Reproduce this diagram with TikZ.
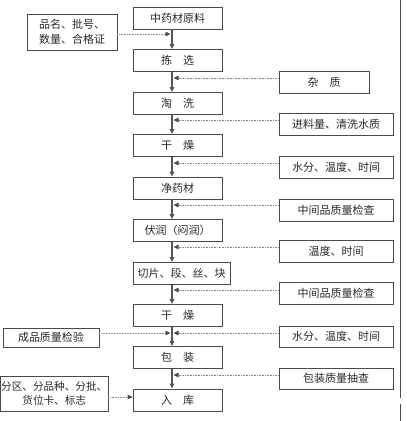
\documentclass[tikz,border=0pt]{standalone}
\usepackage{fontspec}
\setmainfont{Noto Sans CJK SC}
\usetikzlibrary{arrows.meta}
\definecolor{boxgray}{HTML}{4A4A4A}
\definecolor{spinegray}{HTML}{555555}
\definecolor{dotgray}{HTML}{8A8A8A}
\definecolor{txt}{HTML}{2A2A2A}
\newcommand{\gapsp}{\hspace{1em}}
\begin{document}
\begin{tikzpicture}[x=1pt,y=-1pt,
  box/.style={draw=boxgray, line width=0.8pt, inner sep=0pt, text=txt,
    font=\fontsize{11}{14.5}\selectfont, align=center},
  mainbox/.style={box, minimum width=89pt, minimum height=22pt},
  rbox/.style={box, minimum width=114pt, minimum height=22pt},
  spine/.style={draw=spinegray, line width=1.3pt,
    -{Triangle[length=5pt,width=4.5pt]}},
  side/.style={draw=dotgray, line width=0.8pt, dash pattern=on 0.8pt off 0.8pt,
    -{Triangle[length=5pt,width=4.5pt,color=boxgray]}},
  edge/.style={draw=boxgray, line width=0.9pt}]
\useasboundingbox (0,0) rectangle (407,421);
\fill[white] (0,0) rectangle (407,421);
\coordinate (sp) at (172,0);
% main column
\node[mainbox] (b1) at (177.5,18) {中药材原料};
\node[mainbox] (b2) at (177.5,60.5) {拣\gapsp 选};
\node[mainbox] (b3) at (177.5,103.5) {淘\gapsp 洗};
\node[mainbox] (b4) at (177.5,145.5) {干\gapsp 燥};
\node[mainbox] (b5) at (177.5,188) {净药材};
\node[mainbox] (b6) at (177.5,230.5) {伏润（闷润）};
\node[mainbox, minimum width=97pt] (b7) at (181.5,273.5) {切片、段、丝、块};
\node[mainbox] (b8) at (177.5,315.5) {干\gapsp 燥};
\node[mainbox] (b9) at (177.5,357.5) {包\gapsp 装};
\node[mainbox] (b10) at (177.5,400) {入\gapsp 库};
% left boxes
\node[box, minimum width=90pt, minimum height=36pt] (l1) at (72,32) {品名、批号、\\数量、合格证};
\node[box, minimum width=96pt, minimum height=19pt] (l2) at (51,337.5) {成品质量检验};
\node[box, minimum width=107.5pt, minimum height=35pt, font=\fontsize{10.6}{14.5}\selectfont] (l3) at (54.25,393.5) {分区、分品种、分批、\\货位卡、标志};
% right boxes
\node[box, minimum width=90pt, minimum height=22pt] (r1) at (324,82) {杂\gapsp 质};
\node[rbox] (r2) at (336,124) {进料量、清洗水质};
\node[rbox] (r3) at (336,167) {水分、温度、时间};
\node[rbox] (r4) at (336,210) {中间品质量检查};
\node[rbox] (r5) at (336,251.5) {温度、时间};
\node[rbox] (r6) at (336,293.5) {中间品质量检查};
\node[rbox, minimum height=21pt] (r7) at (336,336.5) {水分、温度、时间};
\node[rbox, minimum height=21pt] (r8) at (336,378.5) {包装质量抽查};
% spine
\draw[spine] (b1.south -| sp) -- (b2.north -| sp);
\draw[spine] (b2.south -| sp) -- (b3.north -| sp);
\draw[spine] (b3.south -| sp) -- (b4.north -| sp);
\draw[spine] (b4.south -| sp) -- (b5.north -| sp);
\draw[spine] (b5.south -| sp) -- (b6.north -| sp);
\draw[spine] (b6.south -| sp) -- (b7.north -| sp);
\draw[spine] (b7.south -| sp) -- (b8.north -| sp);
\draw[spine] (b8.south -| sp) -- (b9.north -| sp);
\draw[spine] (b9.south -| sp) -- (b10.north -| sp);
% join points
\coordinate (jl1) at (170.5,34);
\coordinate (jr1) at (173.5,78);
\coordinate (jr2) at (173.5,120);
\coordinate (jr3) at (173.5,163);
\coordinate (jr4) at (173.5,205);
\coordinate (jr5) at (173.5,247);
\coordinate (jr6) at (173.5,290);
\coordinate (jr7) at (173.5,333);
\coordinate (jl2) at (170.5,333);
\coordinate (jr8) at (173.5,375);
\coordinate (jl3) at (133,397);
% side arrows
\draw[side] (l1.east |- jl1) -- (jl1);
\draw[side] (r1.west |- jr1) -- (jr1);
\draw[side] (r2.west |- jr2) -- (jr2);
\draw[side] (r3.west |- jr3) -- (jr3);
\draw[side] (r4.west |- jr4) -- (jr4);
\draw[side] (r5.west |- jr5) -- (jr5);
\draw[side] (r6.west |- jr6) -- (jr6);
\draw[side] (r7.west |- jr7) -- (jr7);
\draw[side] (l2.east |- jl2) -- (jl2);
\draw[side] (r8.west |- jr8) -- (jr8);
\draw[side] (l3.east |- jl3) -- (b10.west |- jl3);
% right edge line
\coordinate (e1) at (400,0);
\coordinate (e2) at (400,398);
\coordinate (e3) at (400,404);
\coordinate (e4) at (400,421);
\draw[edge] (e1) -- (e2);
\draw[edge] (e3) -- (e4);
\end{tikzpicture}
\end{document}
